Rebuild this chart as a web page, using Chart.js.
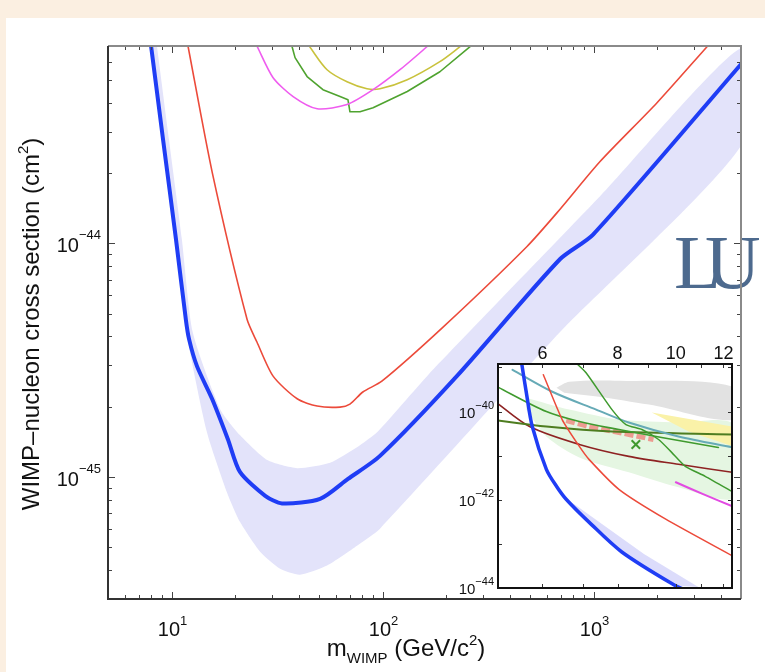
<!DOCTYPE html>
<html>
<head>
<meta charset="utf-8">
<script src="https://cdn.jsdelivr.net/npm/chart.js@4.4.0/dist/chart.umd.min.js"></script>
<style>
  html, body { margin: 0; padding: 0; background: #fff; }
  #wrap { position: relative; width: 765px; height: 672px; overflow: hidden; }
  #main { position: absolute; left: 0; top: 0; }
  #inset { position: absolute; left: 440px; top: 335px; }
</style>
</head>
<body>
<div id="wrap">
  <canvas id="main" width="765" height="672"></canvas>
  <canvas id="inset" width="300" height="270"></canvas>
</div>
<script>
const FONT = '"Liberation Sans", Arial, Helvetica, sans-serif';

/* ------------ main plot data (GeV/c^2, cm^2) ------------ */
const luxMass  = [8.0, 9.12, 10.5, 11.7, 12.1, 13.2, 15.6, 18.5, 21.1, 27.8, 33.4, 50.6, 68.6, 97.3, 225, 693, 995, 5000];
const luxLimit = [7.0e-44, 2.78e-44, 1.04e-44, 4.7e-45, 3.9e-45, 2.98e-45, 2.15e-45, 1.45e-45, 1.05e-45, 8.3e-46, 7.7e-46, 8.05e-46, 9.8e-46, 1.23e-45, 2.7e-45, 8.55e-45, 1.09e-44, 5.85e-44];

const xenonMass  = [11.97, 15.6, 22.8, 25.4, 30.3, 39.4, 49.0, 62.9, 70.1, 80.7, 99.3, 193.6, 484, 694, 1074, 2000, 3450];
const xenonLimit = [7.0e-44, 2.01e-44, 4.73e-45, 3.78e-45, 2.70e-45, 2.16e-45, 2.01e-45, 1.99e-45, 2.05e-45, 2.31e-45, 2.57e-45, 4.38e-45, 9.7e-45, 1.40e-44, 2.24e-44, 4.0e-44, 6.95e-44];

// expected sensitivity band, upper edge then lower edge back to the start
const bandMass  = [8.53, 9.73, 11.2, 12.6, 17.0, 21.1, 28.4, 39.4, 56.4, 75.7, 95.3, 162.6, 1074, 5000,
                   5000, 694, 97.3, 75.7, 54.6, 40.6, 32.7, 26.3, 21.1, 18.3, 14.7, 11.7, 10.5, 9.12, 8.0];
const bandSigma = [7.0e-44, 2.78e-44, 1.04e-44, 4.17e-45, 1.95e-45, 1.51e-45, 1.18e-45, 1.09e-45, 1.15e-45, 1.34e-45, 1.57e-45, 2.70e-45, 1.59e-44, 6.85e-44,
                   2.62e-44, 4.17e-45, 6.0e-46, 5.07e-46, 4.17e-46, 3.81e-46, 4.04e-46, 4.78e-46, 6.42e-46, 8.6e-46, 1.56e-45, 4.29e-45, 1.04e-44, 2.78e-44, 7.0e-44];

const magentaMass  = [25.4, 30.3, 37.7, 49.0, 67.9, 90.2, 121, 164];
const magentaSigma = [7.0e-44, 5.12e-44, 4.25e-44, 3.77e-44, 3.93e-44, 4.55e-44, 5.54e-44, 7.0e-44];
const yellowMass   = [44.9, 54.6, 67.9, 84.4, 97.3, 131, 187, 233];
const yellowSigma  = [7.0e-44, 5.54e-44, 4.92e-44, 4.59e-44, 4.59e-44, 5.02e-44, 6.0e-44, 6.95e-44];
const greenMass    = [37.2, 38.5, 43.9, 52.2, 62.9, 68.6, 70.1, 78.2, 90.2, 131, 187, 260];
const greenSigma   = [7.0e-44, 6.24e-44, 5.18e-44, 4.55e-44, 4.25e-44, 4.12e-44, 3.66e-44, 3.66e-44, 3.81e-44, 4.47e-44, 5.43e-44, 6.95e-44];

const xMajorTicks = [10, 100, 1000];
const xMinorTicks = [5, 6, 7, 8, 9, 20, 30, 40, 50, 60, 70, 80, 90, 200, 300, 400, 500, 600, 700, 800, 900, 2000, 3000, 4000, 5000];
const xTickLabels = [['10', '1'], ['10', '2'], ['10', '3']];
const yMajorTicks = [1e-45, 1e-44];
const yMinorTicks = [4e-46, 5e-46, 6e-46, 7e-46, 8e-46, 9e-46, 2e-45, 3e-45, 4e-45, 5e-45, 6e-45, 7e-45, 8e-45, 9e-45, 2e-44, 3e-44, 4e-44, 5e-44, 6e-44];
const yTickLabels = [['10', '\u221245'], ['10', '\u221244']];

/* ------------ inset data (low mass zoom) ------------ */
const inBlueMass   = [5.54, 5.64, 5.77, 6.09, 6.33, 6.57, 7.17, 8.13, 9.99, 10.4];
const inBlueSigma  = [1.25e-39, 2.69e-40, 4.59e-41, 4.91e-42, 2.03e-42, 1.03e-42, 3.12e-43, 6.56e-44, 1.12e-44, 9.0e-45];
const inBlueBandMass  = [6.57, 6.78, 7.74, 8.85, 10.9, 9.99, 8.13, 7.17];
const inBlueBandSigma = [1.03e-42, 7.96e-43, 2.17e-43, 5.91e-44, 1.06e-44, 1.12e-44, 6.56e-44, 3.12e-43];
const inRedMass    = [6.02, 6.47, 6.91, 7.17, 8.04, 9.62, 12.5];
const inRedSigma   = [6.84e-40, 6.6e-41, 1.62e-41, 8.25e-42, 1.73e-42, 3.65e-43, 5.1e-44];
const inTealMass   = [5.35, 6.23, 7.37, 8.35, 10.1, 12.5];
const inTealSigma  = [8.87e-40, 2.82e-40, 1.11e-40, 5.64e-41, 2.73e-41, 1.52e-41];
const inGreenMass  = [5.0, 6.09, 6.91, 8.04, 9.47, 11.77];
const inGreenSigma = [3.9e-40, 1.0e-40, 5.95e-41, 3.92e-41, 2.59e-41, 1.54e-41];
const inOliveMass  = [5.0, 6.09, 7.83, 12.5];
const inOliveSigma = [6.4e-41, 4.58e-41, 3.54e-41, 3.03e-41];
const inBrownMass  = [5.0, 5.71, 6.91, 8.35, 10.1, 12.5];
const inBrownSigma = [1.7e-40, 4.58e-41, 1.8e-41, 9.64e-42, 6.37e-42, 4.15e-42];
const inSteepMass  = [6.83, 7.09, 7.83, 8.26, 8.78, 9.36, 9.84, 10.37, 11.19, 12.5];
const inSteepSigma = [1.25e-39, 7.6e-40, 1.11e-40, 5.09e-41, 3.92e-41, 2.33e-41, 1.19e-41, 5.73e-42, 3.41e-42, 1.45e-42];
const inPinkMass   = [10.0, 11.1, 12.5];
const inPinkSigma  = [2.5e-42, 1.34e-42, 6.9e-43];
const inGrayMass   = [6.33, 6.65, 8.04, 12.5, 12.5, 9.02, 7.45, 6.52];
const inGraySigma  = [3.48e-40, 4.75e-40, 5.01e-40, 3.6e-40, 6.6e-41, 1.44e-40, 2.18e-40, 2.69e-40];
const inYellowMass  = [9.12, 12.5, 12.5, 10.5];
const inYellowSigma = [9.5e-41, 4.5e-41, 1.6e-41, 3.54e-41];
const inGreenBandMass  = [5.64, 6.65, 8.04, 10.1, 12.5, 12.5, 10.1, 8.35, 6.91, 6.09, 5.64];
const inGreenBandSigma = [2.07e-40, 1.11e-40, 6.6e-41, 5.65e-41, 5.0e-41, 1.15e-42, 1.92e-42, 4.2e-42, 9.16e-42, 2.73e-41, 1.11e-40];
const inSalmonMass  = [6.57, 7.17, 8.04, 9.18];
const inSalmonSigma = [6.27e-41, 4.58e-41, 3.36e-41, 2.33e-41];
const inCrossMass  = [8.58];
const inCrossSigma = [1.8e-41];

const inXTicks = [6, 7, 8, 9, 10, 11, 12];
const inXLabels = [6, 8, 10, 12];
const inYTicks = [1e-44, 1e-43, 1e-42, 1e-41, 1e-40, 1e-39];
const inYLabels = [[1e-40, '\u221240'], [1e-42, '\u221242'], [1e-44, '\u221244']];

/* ------------ helpers ------------ */
const toXY = (xs, ys) => xs.map((v, i) => ({ x: v, y: ys[i] }));

function line(label, xs, ys, color, width, extra) {
  return Object.assign({
    label, data: toXY(xs, ys), showLine: true, borderColor: color, borderWidth: width,
    pointRadius: 0, fill: false, tension: 0, borderJoinStyle: 'round', borderCapStyle: 'round'
  }, extra || {});
}
function area(label, xs, ys, color, tension) {
  return {
    label, data: toXY(xs, ys), showLine: true, borderWidth: 0, borderColor: 'rgba(0,0,0,0)',
    backgroundColor: color, pointRadius: 0, fill: 'shape', tension: tension || 0
  };
}
// "10" with a raised exponent
function drawPow(ctx, base, exp, x, y, align, big, small, rise) {
  ctx.font = `${big}px ${FONT}`;
  const w1 = ctx.measureText(base).width;
  ctx.font = `${small}px ${FONT}`;
  const w2 = ctx.measureText(exp).width;
  const total = w1 + w2;
  const x0 = align === 'right' ? x - total : align === 'center' ? x - total / 2 : x;
  ctx.textAlign = 'left';
  ctx.textBaseline = 'alphabetic';
  ctx.font = `${big}px ${FONT}`;
  ctx.fillText(base, x0, y);
  ctx.font = `${small}px ${FONT}`;
  ctx.fillText(exp, x0 + w1, y - rise);
}
// runs of [text, size, shift] drawn one after another
function drawRuns(ctx, runs, x, y, align) {
  let total = 0;
  runs.forEach(r => { ctx.font = `${r[1]}px ${FONT}`; r.w = ctx.measureText(r[0]).width; total += r.w; });
  let cx = align === 'center' ? x - total / 2 : x;
  ctx.textAlign = 'left';
  ctx.textBaseline = 'alphabetic';
  runs.forEach(r => { ctx.font = `${r[1]}px ${FONT}`; ctx.fillText(r[0], cx, y + r[2]); cx += r.w; });
}

/* ------------ main chart ------------ */
const mainDecor = {
  id: 'mainDecor',
  beforeDraw(chart) {
    const { ctx, width, height } = chart;
    ctx.save();
    ctx.fillStyle = '#ffffff';
    ctx.fillRect(0, 0, width, height);
    ctx.fillStyle = '#fbefe1';
    ctx.fillRect(0, 0, width, 18);
    ctx.fillRect(0, 0, 6, height);
    ctx.restore();
  },
  afterDraw(chart) {
    const { ctx, chartArea: a, scales: { x, y } } = chart;
    ctx.save();

    // slide title peeking in (L and U placed tight, as in the slide)
    ctx.font = '77px "Liberation Serif", "Times New Roman", serif';
    ctx.fillStyle = '#4d6a8e';
    ctx.textAlign = 'left';
    ctx.textBaseline = 'alphabetic';
    ctx.fillText('L', 674, 288);
    ctx.fillText('U', 705, 288);

    // inward ticks
    ctx.strokeStyle = '#444';
    ctx.lineWidth = 1;
    const tickX = (v, len) => {
      const px = Math.round(x.getPixelForValue(v)) + 0.5;
      ctx.beginPath();
      ctx.moveTo(px, a.bottom); ctx.lineTo(px, a.bottom - len);
      ctx.moveTo(px, a.top); ctx.lineTo(px, a.top + len);
      ctx.stroke();
    };
    const tickY = (v, len) => {
      const py = Math.round(y.getPixelForValue(v)) + 0.5;
      ctx.beginPath();
      ctx.moveTo(a.left, py); ctx.lineTo(a.left + len, py);
      ctx.moveTo(a.right, py); ctx.lineTo(a.right - len, py);
      ctx.stroke();
    };
    xMinorTicks.forEach(v => tickX(v, 4));
    xMajorTicks.forEach(v => tickX(v, 7));
    yMinorTicks.forEach(v => tickY(v, 4));
    yMajorTicks.forEach(v => tickY(v, 7));

    // frame
    ctx.lineWidth = 2;
    ctx.strokeStyle = '#8a8a8a';
    ctx.beginPath();
    ctx.moveTo(a.left, a.top); ctx.lineTo(a.right, a.top); ctx.lineTo(a.right, a.bottom);
    ctx.stroke();
    ctx.strokeStyle = '#333';
    ctx.beginPath();
    ctx.moveTo(a.left, a.top); ctx.lineTo(a.left, a.bottom); ctx.lineTo(a.right, a.bottom);
    ctx.stroke();

    // tick labels
    ctx.fillStyle = '#111';
    xMajorTicks.forEach((v, i) => {
      drawPow(ctx, xTickLabels[i][0], xTickLabels[i][1], x.getPixelForValue(v) + 1, 636, 'center', 20, 13, 11);
    });
    yMajorTicks.forEach((v, i) => {
      drawPow(ctx, yTickLabels[i][0], yTickLabels[i][1], 101, y.getPixelForValue(v) + 9, 'right', 20, 13, 13);
    });

    // axis titles
    drawRuns(ctx, [['m', 24, 0], ['WIMP', 15, 7], [' (GeV/c', 24, 0], ['2', 15, -11], [')', 24, 0]], 406, 656, 'center');
    ctx.translate(39, 324);
    ctx.rotate(-Math.PI / 2);
    drawRuns(ctx, [['WIMP\u2013nucleon cross section (cm', 24, 0], ['2', 15, -11], [')', 24, 0]], 0, 0, 'center');
    ctx.restore();
  }
};

new Chart(document.getElementById('main'), {
  type: 'scatter',
  data: {
    datasets: [
      line('LUX', luxMass, luxLimit, '#1f3df5', 4, { tension: 0.25 }),
      line('XENON100', xenonMass, xenonLimit, '#ec4a3a', 1.6, { tension: 0.25 }),
      line('magenta', magentaMass, magentaSigma, '#ef5cef', 1.6, { tension: 0.25 }),
      line('yellow', yellowMass, yellowSigma, '#c9c23c', 1.6, { tension: 0.3 }),
      line('green', greenMass, greenSigma, '#4fa32f', 1.6),
      area('band', bandMass, bandSigma, '#e3e3fa', 0.2),
    ]
  },
  options: {
    responsive: false,
    animation: false,
    devicePixelRatio: 1,
    events: [],
    layout: { padding: { left: 108, top: 46, right: 24, bottom: 73 } },
    scales: {
      x: { type: 'logarithmic', min: 5, max: 5000, display: false },
      y: { type: 'logarithmic', min: 3e-46, max: 7e-44, display: false },
    },
    plugins: { legend: { display: false }, tooltip: { enabled: false } }
  },
  plugins: [mainDecor]
});

/* ------------ inset chart ------------ */
const insetDecor = {
  id: 'insetDecor',
  beforeDraw(chart) {
    const { ctx, chartArea: a } = chart;
    ctx.save();
    ctx.fillStyle = '#ffffff';
    ctx.fillRect(a.left, a.top, a.right - a.left, a.bottom - a.top);
    ctx.restore();
  },
  afterDraw(chart) {
    const { ctx, chartArea: a, scales: { x, y } } = chart;
    ctx.save();
    ctx.strokeStyle = '#333';
    ctx.lineWidth = 1;
    inXTicks.forEach(v => {
      const px = Math.round(x.getPixelForValue(v)) + 0.5;
      ctx.beginPath();
      ctx.moveTo(px, a.top); ctx.lineTo(px, a.top + 4);
      ctx.moveTo(px, a.bottom); ctx.lineTo(px, a.bottom - 4);
      ctx.stroke();
    });
    inYTicks.forEach(v => {
      const py = Math.round(y.getPixelForValue(v)) + 0.5;
      ctx.beginPath();
      ctx.moveTo(a.left, py); ctx.lineTo(a.left + 4, py);
      ctx.moveTo(a.right, py); ctx.lineTo(a.right - 4, py);
      ctx.stroke();
    });
    ctx.lineWidth = 2;
    ctx.strokeStyle = '#111';
    ctx.strokeRect(a.left, a.top, a.right - a.left, a.bottom - a.top);

    ctx.fillStyle = '#111';
    ctx.textBaseline = 'alphabetic';
    ctx.textAlign = 'center';
    ctx.font = `18px ${FONT}`;
    inXLabels.forEach(v => ctx.fillText(String(v), x.getPixelForValue(v), a.top - 5));
    inYLabels.forEach(([v, exp]) => {
      drawPow(ctx, '10', exp, a.left - 4, y.getPixelForValue(v) + 6, 'right', 15, 11, 9);
    });
    ctx.restore();
  }
};

new Chart(document.getElementById('inset'), {
  type: 'scatter',
  data: {
    datasets: [
      line('LUX', inBlueMass, inBlueSigma, '#1f3df5', 3.5, { tension: 0.3 }),
      { label: 'best fit', data: toXY(inCrossMass, inCrossSigma), showLine: false, pointStyle: 'crossRot',
        pointRadius: 6, borderColor: '#3f9a2e', borderWidth: 2, backgroundColor: '#3f9a2e' },
      line('XENON100', inRedMass, inRedSigma, '#ec4a3a', 1.5, { tension: 0.2 }),
      line('CDMS Ge', inSteepMass, inSteepSigma, '#3f9a2e', 1.5, { tension: 0.2 }),
      line('teal', inTealMass, inTealSigma, '#66aab6', 2, { tension: 0.3 }),
      line('green', inGreenMass, inGreenSigma, '#3f9a2e', 1.6, { tension: 0.3 }),
      line('olive', inOliveMass, inOliveSigma, '#4e7d20', 2, { tension: 0.3 }),
      line('brown', inBrownMass, inBrownSigma, '#8e2222', 1.6, { tension: 0.3 }),
      line('magenta', inPinkMass, inPinkSigma, '#e24be2', 2, { tension: 0.2 }),
      line('CoGeNT', inSalmonMass, inSalmonSigma, 'rgba(238,140,130,0.85)', 5, { borderDash: [9, 3], borderCapStyle: 'butt', tension: 0.3 }),
      area('LUX band', inBlueBandMass, inBlueBandSigma, 'rgba(205,205,250,0.7)'),
      area('yellow region', inYellowMass, inYellowSigma, '#faf2a8'),
      area('gray region', inGrayMass, inGraySigma, '#e2e2e2', 0.3),
      area('green region', inGreenBandMass, inGreenBandSigma, '#e5f6e2', 0.3),
    ]
  },
  options: {
    responsive: false,
    animation: false,
    devicePixelRatio: 1,
    events: [],
    layout: { padding: { left: 58, top: 29, right: 7, bottom: 17 } },
    scales: {
      x: { type: 'logarithmic', min: 5.06, max: 12.4, display: false },
      y: { type: 'logarithmic', min: 1e-44, max: 1.2e-39, display: false },
    },
    plugins: { legend: { display: false }, tooltip: { enabled: false } }
  },
  plugins: [insetDecor]
});
</script>
</body>
</html>
